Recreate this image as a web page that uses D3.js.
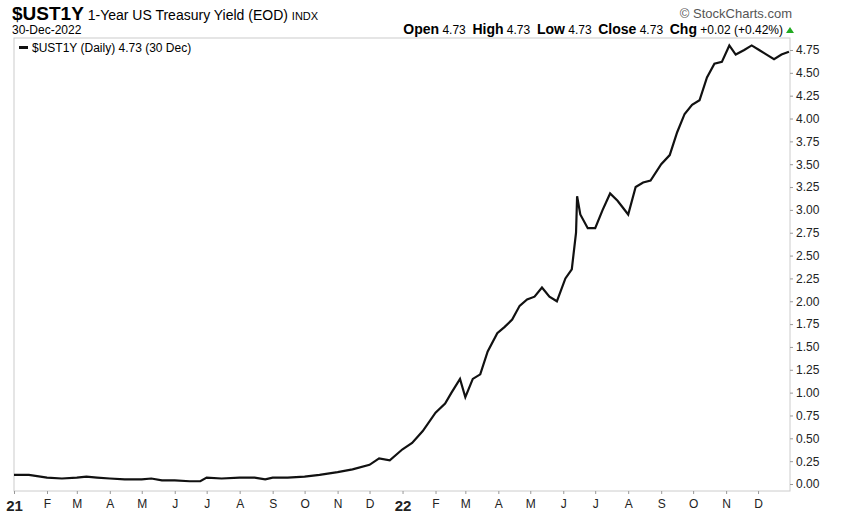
<!DOCTYPE html><html><head><meta charset="utf-8"><script src="https://cdn.jsdelivr.net/npm/d3@7"></script>
<style>body{margin:0;background:#fff}text{font-family:"Liberation Sans Narrow","Liberation Sans",Arial,sans-serif}</style></head><body><svg id="c" width="848" height="513"></svg><script>
const dates=["2021-01-01","2021-01-15","2021-02-01","2021-02-15","2021-03-01","2021-03-10","2021-03-20","2021-04-01","2021-04-15","2021-05-01","2021-05-10","2021-05-20","2021-06-01","2021-06-15","2021-06-25","2021-07-01","2021-07-15","2021-08-01","2021-08-15","2021-08-25","2021-09-01","2021-09-15","2021-10-01","2021-10-15","2021-11-01","2021-11-15","2021-12-01","2021-12-10","2021-12-20","2022-01-01","2022-01-10","2022-01-20","2022-02-01","2022-02-10","2022-02-16","2022-02-24","2022-03-01","2022-03-08","2022-03-15","2022-03-22","2022-03-31","2022-04-07","2022-04-14","2022-04-21","2022-04-28","2022-05-05","2022-05-12","2022-05-19","2022-05-26","2022-06-03","2022-06-09","2022-06-13","2022-06-14","2022-06-17","2022-06-24","2022-07-01","2022-07-08","2022-07-15","2022-07-22","2022-08-01","2022-08-08","2022-08-15","2022-08-22","2022-09-01","2022-09-09","2022-09-16","2022-09-23","2022-09-30","2022-10-07","2022-10-14","2022-10-21","2022-10-28","2022-11-04","2022-11-10","2022-11-18","2022-11-25","2022-12-02","2022-12-09","2022-12-16","2022-12-23","2022-12-30"];
const values=[0.10,0.10,0.07,0.06,0.07,0.08,0.07,0.06,0.05,0.05,0.06,0.04,0.04,0.03,0.03,0.07,0.06,0.07,0.07,0.05,0.07,0.07,0.08,0.10,0.13,0.16,0.21,0.28,0.26,0.38,0.45,0.58,0.78,0.88,1.00,1.15,0.95,1.15,1.20,1.45,1.65,1.72,1.80,1.95,2.02,2.05,2.15,2.05,2.00,2.25,2.35,2.75,3.15,2.95,2.80,2.80,3.00,3.18,3.10,2.95,3.25,3.30,3.32,3.50,3.60,3.85,4.05,4.15,4.20,4.45,4.60,4.62,4.80,4.70,4.75,4.80,4.75,4.70,4.65,4.70,4.73];
const yTicks=[0,0.25,0.5,0.75,1,1.25,1.5,1.75,2,2.25,2.5,2.75,3,3.25,3.5,3.75,4,4.25,4.5,4.75];
const monthLabels=["21","F","M","A","M","J","J","A","S","O","N","D","22","F","M","A","M","J","J","A","S","O","N","D"];
const svg=d3.select("#c");
const L=14,R=790,T=38,B=491;
const data=dates.map((d,i)=>({d:new Date(d+"T00:00:00"),v:values[i]}));
const x=d3.scaleTime().domain([new Date("2021-01-01T00:00:00"),new Date("2022-12-31T00:00:00")]).range([L,R]);
const y=d3.scaleLinear().domain([0,4.75]).range([484,50]);
svg.append("rect").attr("x",L).attr("y",T).attr("width",R-L).attr("height",B-T).attr("fill","none").attr("stroke","#ccc");
svg.append("path").datum(data).attr("fill","none").attr("stroke","#111").attr("stroke-width",2.2).attr("d",d3.line().x(d=>x(d.d)).y(d=>y(d.v)));
const ya=svg.append("g").attr("transform",`translate(${R},0)`).call(d3.axisRight(y).tickValues(yTicks).tickFormat(d3.format(".2f")).tickSize(3));
ya.select(".domain").remove();ya.selectAll("line").attr("stroke","#999");ya.selectAll("text").attr("font-size",12).attr("fill","#222").attr("x",6);
const months=d3.timeMonth.range(new Date("2021-01-01T00:00:00"),new Date("2023-01-01T00:00:00"));
const xa=svg.append("g").attr("transform",`translate(0,${B})`).call(d3.axisBottom(x).tickValues(months).tickFormat((d,i)=>monthLabels[i]).tickSize(3));
xa.select(".domain").remove();xa.selectAll("line").attr("stroke","#999");
xa.selectAll("text").attr("font-size",(d,i)=>i%12==0?15:12).attr("font-weight",(d,i)=>i%12==0?"bold":"normal").attr("fill","#222").attr("dy","0.9em");
svg.append("text").attr("x",12).attr("y",20).attr("font-size",19).attr("font-weight","bold").text("$UST1Y").append("tspan").attr("font-size",14).attr("font-weight","normal").text(" 1-Year US Treasury Yield (EOD) ").append("tspan").attr("font-size",11).text("INDX");
svg.append("text").attr("x",792).attr("y",18).attr("text-anchor","end").attr("font-size",13).attr("fill","#555").text("© StockCharts.com");
svg.append("text").attr("x",12).attr("y",34).attr("font-size",12).text("30-Dec-2022");
const hdr=svg.append("text").attr("x",783).attr("y",34).attr("text-anchor","end").attr("font-size",12);
[["Open"," 4.73  "],["High"," 4.73  "],["Low"," 4.73  "],["Close"," 4.73  "],["Chg"," +0.02 (+0.42%)"]].forEach(([a,b])=>{hdr.append("tspan").attr("font-weight","bold").attr("font-size",14).text(a);hdr.append("tspan").attr("xml:space","preserve").text(b);});
svg.append("path").attr("d","M786,33 L790,27 L794,33Z").attr("fill","#2a2");
svg.append("rect").attr("x",19).attr("y",46).attr("width",9).attr("height",3).attr("fill","#111");
svg.append("text").attr("x",32).attr("y",52).attr("font-size",12).attr("font-family","DejaVu Sans Mono").text("$UST1Y (Daily) 4.73 (30 Dec)");
</script></body></html>
